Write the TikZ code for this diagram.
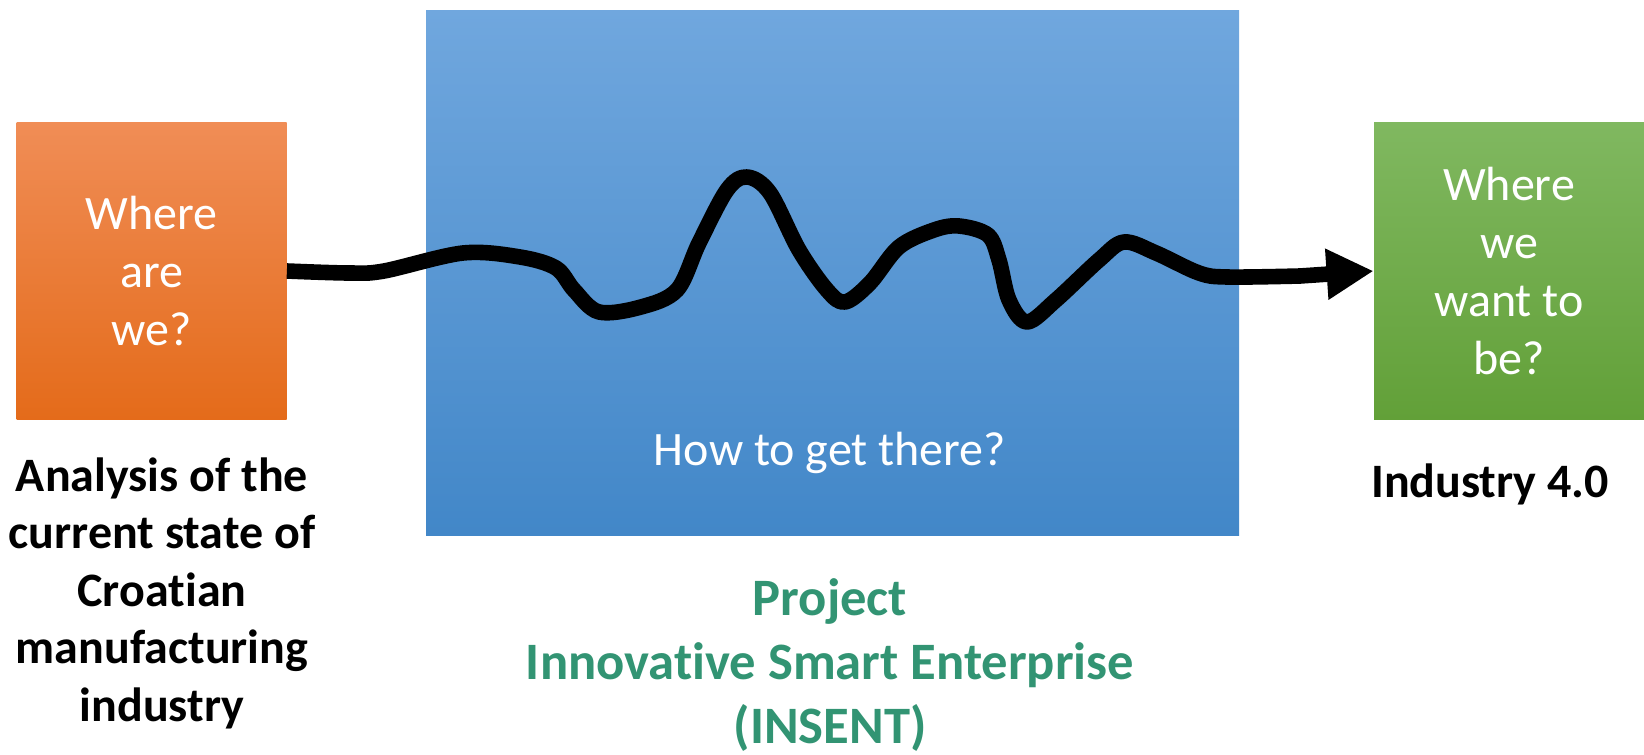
\documentclass[tikz,border=0pt]{standalone}
\usepackage{fontspec}
\setmainfont{Carlito}[Ligatures={NoCommon,NoContextual},Contextuals=NoAlternate]
\usetikzlibrary{arrows.meta}

\definecolor{nowtop}{RGB}{240,141,86}
\definecolor{nowbot}{RGB}{228,107,26}
\definecolor{pathtop}{RGB}{112,167,222}
\definecolor{pathbot}{RGB}{66,135,200}
\definecolor{goaltop}{RGB}{128,184,96}
\definecolor{goalbot}{RGB}{98,160,56}
\definecolor{insent}{RGB}{50,148,115}

\begin{document}
\begin{tikzpicture}[x=0.5pt,y=-0.5pt,
  box/.style={inner sep=0pt,minimum width=135pt,minimum height=148.5pt,text=white,align=center,font=\fontsize{24}{29}\selectfont},
  caption/.style={align=center,font=\fontsize{24}{28.75}\selectfont\bfseries}]
\useasboundingbox (0,0) rectangle (1644,755);
\node (now) [box,top color=nowtop,bottom color=nowbot] at (151.5,271) {Where\\are\\we?};
\node (path) [box,minimum width=406.5pt,minimum height=262.5pt,top color=pathtop,bottom color=pathbot] at (832.5,272.5) {};
\node (goal) [box,top color=goaltop,bottom color=goalbot] at (1509,271) {Where\\we\\want to\\be?};
\node (how) [text=white,font=\fontsize{24}{29}\selectfont] at (830,453) {How to get there?};
\node (analysis) [caption] at (162,593) {Analysis of the\\current state of\\Croatian\\manufacturing\\industry};
\node (industry) [caption] at (1490,484) {Industry 4.0};
\node (project) [caption,text=insent,font=\fontsize{26.3}{32}\selectfont\bfseries] at (830,665) {Project\\Innovative Smart Enterprise\\(INSENT)};
% the winding road
\draw[line width=7.8pt,line join=round,-{Triangle[length=23.5pt,width=24pt]}]
  plot[smooth,tension=0.55] coordinates {(now.east) (349,273) (384,271) (463,253) (520,257) (556,268)
    (574,290) (599,312) (641,307) (677,290) (699,243) (727,190) (747,177) (770,193) (799,250)
    (827,290) (845,302) (870,283) (899,247) (934,230) (959,226) (988,235) (999,260) (1009,300)
    (1027,322) (1056,300) (1099,260) (1124,242) (1156,253) (1199,273) (1227,277) (1300,276)}
  -- (goal.west);
\end{tikzpicture}
\end{document}
